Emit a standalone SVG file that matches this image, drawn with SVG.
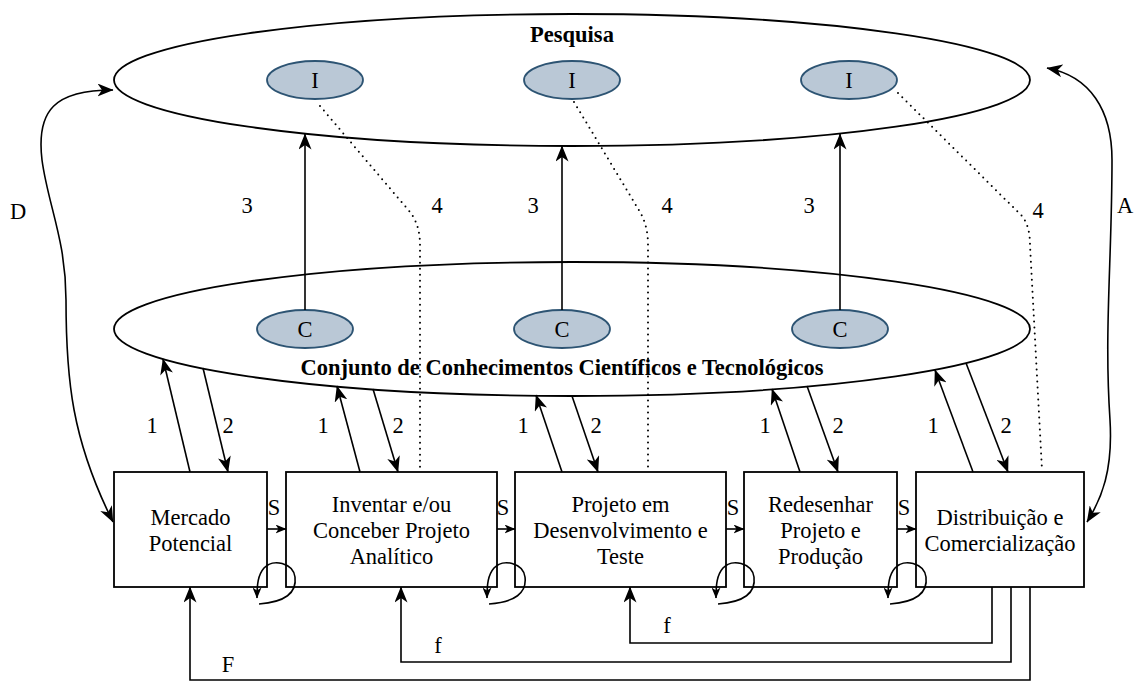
<svg xmlns="http://www.w3.org/2000/svg" width="1134" height="682" viewBox="0 0 1134 682">
<defs>
<style>
.big{fill:#fff;stroke:#000;stroke-width:1.8}
.sm{fill:#bac8d6;stroke:#2d5473;stroke-width:1.8}
.box{fill:#fff;stroke:#000;stroke-width:1.8}
text{font-family:"Liberation Serif","Times New Roman",serif;font-size:22.5px;fill:#000;text-anchor:middle}
.b{font-weight:bold}
.e{fill:none;stroke:#000;stroke-width:1.6}
.d{fill:none;stroke:#000;stroke-width:2;stroke-dasharray:0 6;stroke-linecap:round}
</style>
<marker id="a" viewBox="0 0 16 13" refX="15.5" refY="6.5" markerWidth="16" markerHeight="13" orient="auto-start-reverse" markerUnits="userSpaceOnUse"><path d="M0,0 L16,6.5 L0,13 L4.5,6.5 z"/></marker>
<marker id="s" viewBox="0 0 11 9" refX="10.5" refY="4.5" markerWidth="11" markerHeight="9" orient="auto" markerUnits="userSpaceOnUse"><path d="M0,0 L11,4.5 L0,9 L3,4.5 z"/></marker>
<path id="loop" d="M-27,604 C-1,602 11,593 9,577 C7,563 -13,558 -22,568 C-28,575 -29,584 -29,598"/>
</defs>

<g id="pesquisa">
<ellipse class="big" cx="572" cy="80" rx="458" ry="66"/>
<text class="b" x="572" y="42">Pesquisa</text>
</g>
<g id="i1"><ellipse class="sm" cx="315" cy="80" rx="48" ry="19"/><text x="315" y="88">I</text></g>
<g id="i2"><ellipse class="sm" cx="572" cy="80" rx="48" ry="19"/><text x="572" y="88">I</text></g>
<g id="i3"><ellipse class="sm" cx="849" cy="80" rx="48" ry="19"/><text x="849" y="88">I</text></g>

<g id="conjunto">
<ellipse class="big" cx="572" cy="329" rx="458" ry="67"/>
<text class="b" x="562" y="375">Conjunto de Conhecimentos Científicos e Tecnológicos</text>
</g>
<g id="c1"><ellipse class="sm" cx="305" cy="329" rx="48" ry="19"/><text x="305" y="337">C</text></g>
<g id="c2"><ellipse class="sm" cx="562" cy="329" rx="48" ry="19"/><text x="562" y="337">C</text></g>
<g id="c3"><ellipse class="sm" cx="840" cy="329" rx="48" ry="19"/><text x="840" y="337">C</text></g>

<g id="mercado"><rect class="box" x="114" y="472" width="153" height="115"/>
<text x="190.5" y="525">Mercado</text><text x="190.5" y="551">Potencial</text></g>
<g id="inventar"><rect class="box" x="286" y="472" width="211" height="115"/>
<text x="391.5" y="512">Inventar e/ou</text><text x="391.5" y="538">Conceber Projeto</text><text x="391.5" y="564">Analítico</text></g>
<g id="projeto"><rect class="box" x="515" y="472" width="211" height="115"/>
<text x="620.5" y="512">Projeto em</text><text x="620.5" y="538">Desenvolvimento e</text><text x="620.5" y="564">Teste</text></g>
<g id="redesenhar"><rect class="box" x="744" y="472" width="153" height="115"/>
<text x="820.5" y="512">Redesenhar</text><text x="820.5" y="538">Projeto e</text><text x="820.5" y="564">Produção</text></g>
<g id="distribuicao"><rect class="box" x="916" y="472" width="168" height="115"/>
<text x="1000" y="525">Distribuição e</text><text x="1000" y="551">Comercialização</text></g>

<g id="connectors">
<path class="e" marker-end="url(#a)" d="M305,310 L305,134"/>
<path class="e" marker-end="url(#a)" d="M562,310 L562,146"/>
<path class="e" marker-end="url(#a)" d="M840,310 L840,134"/>
<text x="247" y="213">3</text><text x="533" y="213">3</text><text x="809" y="213">3</text>

<path class="d" d="M320,106 L410,212 Q420,225 420,245 L420,470"/>
<path class="d" d="M574,102 L640,212 Q648,226 648,245 L648,470"/>
<path class="d" d="M898,93 L1022,216 Q1030,226 1030,245 L1042,470"/>
<text x="437" y="213">4</text><text x="667" y="213">4</text><text x="1038" y="218">4</text>

<path class="e" marker-start="url(#a)" marker-end="url(#a)" d="M113,90 C55,90 36,110 42,160 C48,205 66,240 66,300 C66,380 72,440 113,522"/>
<text x="18" y="219">D</text>
<path class="e" marker-start="url(#a)" marker-end="url(#a)" d="M1047,68 C1090,76 1112,110 1112,160 C1112,260 1104,330 1110,420 C1113,470 1102,498 1087,522"/>
<text x="1125" y="213">A</text>

<path class="e" marker-end="url(#a)" d="M190,472 L163,359"/>
<path class="e" marker-end="url(#a)" d="M203,368 L228,472"/>
<path class="e" marker-end="url(#a)" d="M360,472 L337,386"/>
<path class="e" marker-end="url(#a)" d="M373,389 L398,472"/>
<path class="e" marker-end="url(#a)" d="M562,472 L536,395"/>
<path class="e" marker-end="url(#a)" d="M572,396 L598,472"/>
<path class="e" marker-end="url(#a)" d="M800,472 L772,389"/>
<path class="e" marker-end="url(#a)" d="M807,386 L838,472"/>
<path class="e" marker-end="url(#a)" d="M973,472 L935,370"/>
<path class="e" marker-end="url(#a)" d="M966,363 L1008,472"/>
<text x="152" y="433">1</text><text x="228" y="433">2</text>
<text x="323" y="433">1</text><text x="398" y="433">2</text>
<text x="523" y="433">1</text><text x="596" y="433">2</text>
<text x="765" y="433">1</text><text x="838" y="433">2</text>
<text x="933" y="433">1</text><text x="1006" y="433">2</text>

<path class="e" marker-end="url(#s)" d="M267,529 L286,529"/>
<path class="e" marker-end="url(#s)" d="M497,529 L515,529"/>
<path class="e" marker-end="url(#s)" d="M726,529 L744,529"/>
<path class="e" marker-end="url(#s)" d="M897,529 L916,529"/>
<text x="274" y="515">S</text><text x="503" y="515">S</text><text x="733" y="515">S</text><text x="904" y="515">S</text>

<use href="#loop" class="e" marker-end="url(#s)" transform="translate(286,0)"/>
<use href="#loop" class="e" marker-end="url(#s)" transform="translate(516,0)"/>
<use href="#loop" class="e" marker-end="url(#s)" transform="translate(745,0)"/>
<use href="#loop" class="e" marker-end="url(#s)" transform="translate(917,0)"/>

<path class="e" marker-end="url(#a)" d="M992,587 L992,643 L630,643 L630,587"/>
<path class="e" marker-end="url(#a)" d="M1011,587 L1011,662 L401,662 L401,587"/>
<path class="e" marker-end="url(#a)" d="M1030,587 L1030,680 L190,680 L190,587"/>
<text x="667" y="633">f</text><text x="438" y="653">f</text><text x="228" y="672">F</text>
</g>
</svg>
